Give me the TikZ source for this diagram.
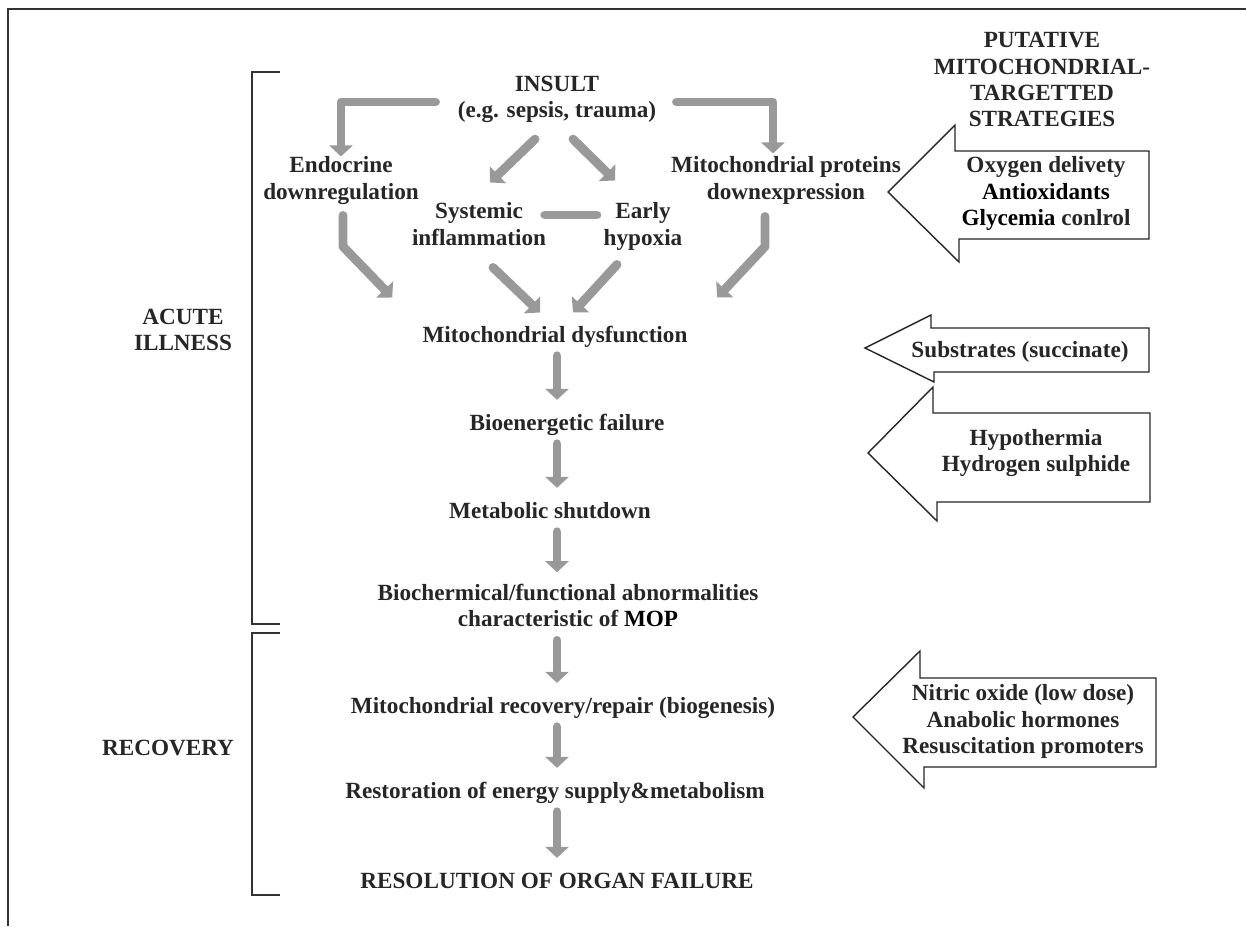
\documentclass[tikz,border=0pt]{standalone}
\usepackage{fontspec}
\setmainfont{Liberation Serif}
\usepackage{xcolor}
\usetikzlibrary{arrows.meta,positioning}
\tikzset{
  stage/.style    = {font=\fontsize{13.2}{15}\selectfont\bfseries, text=black!85,
                     align=center, inner sep=0pt,
                     execute at begin node=\strut, execute at end node=\strut},
  flow/.style     = {-{Triangle[length=6.3pt,width=13.1pt]}, line width=5.1pt,
                     black!40, line cap=round, line join=round},
  chain/.style    = {flow, shorten <=3pt, shorten >=6.6pt},
  link/.style     = {line width=5.1pt, black!40, line cap=round},
  strat/.style    = {draw=black!85, line width=0.8pt, fill=white, line join=miter},
  phasebar/.style = {draw=black!80, line width=0.8pt},
  framebar/.style = {draw=black!80, line width=0.8pt},
}

\begin{document}
\begin{tikzpicture}[x=0.02cm, y=-0.02cm]
\useasboundingbox (0,0) rectangle (1246,926);
\draw[framebar] (1246,9) -- (8,9) -- (8,926);
\coordinate (spine) at (557,0);

\node[stage] (insult) at (557,101) {INSULT\\(e.g. sepsis, trauma)};
\node[stage] (endo) at (341,182) {Endocrine\\downregulation};
\node[stage] (sysinf) at (479,228) {Systemic\\inflammation};
\node[stage] (hypox) at (643,228) {Early\\hypoxia};
\node[stage] (mitoprot) at (786,182) {Mitochondrial proteins\\downexpression};
\node[stage] (dysf) at (555,337) {Mitochondrial dysfunction};
\node[stage] (bioen) at (567,425) {Bioenergetic failure};
\node[stage] (metab) at (550,513) {Metabolic shutdown};
\node[stage] (biochem) at (568,609.5) {Biochermical/functional abnormalities\\characteristic of \textcolor{black}{MOP}};
\node[stage] (repair) at (563,708) {Mitochondrial recovery/repair (biogenesis)};
\node[stage] (restor) at (555,793) {Restoration of energy supply\&metabolism};
\node[stage] (resol) at (557,883) {RESOLUTION OF ORGAN FAILURE};

\node[stage] (acute) at (183,334) {ACUTE\\ILLNESS};
\node[stage] (recov) at (168,750) {RECOVERY};
\draw[phasebar] (280,72) -- (252,72) -- (252,624) -- (280,624);
\draw[phasebar] (280,633) -- (252,633) -- (252,895) -- (280,895);

\draw[flow] ([shift={(-22,1)}]insult.west) -| (endo.north);
\draw[flow] ([shift={(20,1)}]insult.east) -| ([shift={(-13,-3)}]mitoprot.north);
\draw[flow] ([shift={(-22,13)}]insult.south) -- ([shift={(11,-20)}]sysinf.north);
\draw[flow] ([shift={(16,13)}]insult.south) -- ([shift={(-28,-22)}]hypox.north);
\draw[link] ([shift={(-1.5,-13)}]sysinf.east) -- ([shift={(-6.5,-13)}]hypox.west);
\draw[flow] ([shift={(2,8)}]endo.south) -- ++(0,31) -- ([shift={(-30,-26)}]dysf.north west);
\draw[flow] ([shift={(-21,9)}]mitoprot.south) -- ++(0,30) -- ([shift={(29.5,-26)}]dysf.north east);
\draw[flow] ([shift={(14,14)}]sysinf.south) -- ([shift={(-15,-11)}]dysf.north);
\draw[flow] ([shift={(-26,11)}]hypox.south) -- ([shift={(18,-11)}]dysf.north);

\draw[chain] (dysf.south -| spine) -- (bioen.north -| spine);
\draw[chain] (bioen.south -| spine) -- (metab.north -| spine);
\draw[chain] (metab.south -| spine) -- (biochem.north -| spine);
\draw[chain] (biochem.south -| spine) -- (repair.north -| spine);
\draw[chain] (repair.south -| spine) -- (restor.north -| spine);
\draw[chain] (restor.south -| spine) -- (resol.north -| spine);

\node[stage] (putative) at (1042,83.5) {PUTATIVE\\MITOCHONDRIAL-\\TARGETTED\\STRATEGIES};
\draw[strat] (888,192) -- (955,125) -- (955,151) -- (1149,151) -- (1149,239) -- (959,239) -- (959,262) -- cycle;
\node[stage] (oxy) at (1046,195) {Oxygen delivety\\\textcolor{black}{Antioxidants}\\\textcolor{black}{Glycemia} conlrol};
\draw[strat] (865,348) -- (931,315) -- (931,328) -- (1149,328) -- (1149,372) -- (934,372) -- (934,382) -- cycle;
\node[stage] (subst) at (1020,352) {Substrates (succinate)};
\draw[strat] (868,453) -- (933,387) -- (933,413) -- (1150,413) -- (1150,502) -- (937,502) -- (937,521) -- cycle;
\node[stage] (hypoth) at (1036,454.5) {Hypothermia\\Hydrogen sulphide};
\draw[strat] (853,717) -- (920,651) -- (920,678) -- (1156,678) -- (1156,767) -- (924,767) -- (924,788) -- cycle;
\node[stage] (nitric) at (1023,723) {Nitric oxide (low dose)\\Anabolic hormones\\Resuscitation promoters};
\end{tikzpicture}
\end{document}
